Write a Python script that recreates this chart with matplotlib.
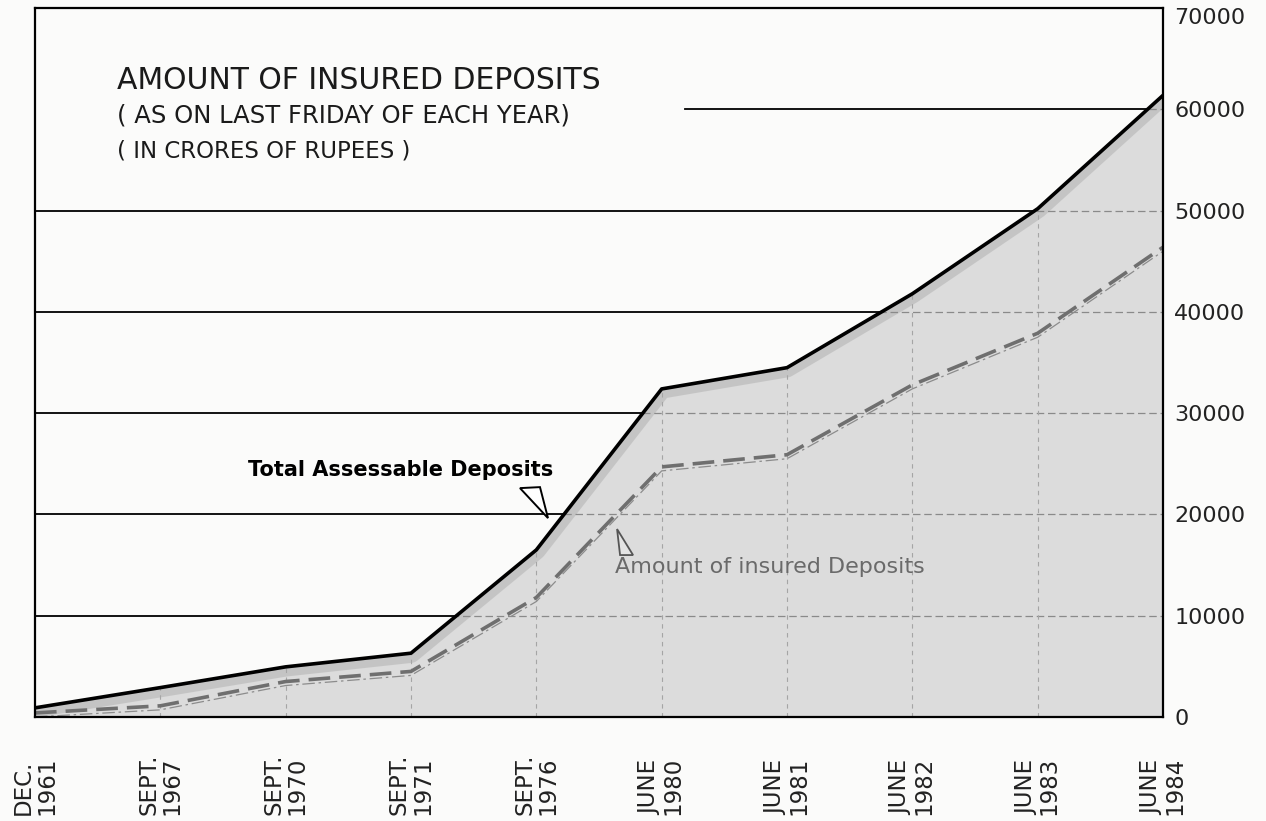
import numpy as np
import matplotlib
matplotlib.use("Agg")
import matplotlib.pyplot as plt
from matplotlib.patches import Polygon
from matplotlib.transforms import offset_copy, ScaledTranslation

periods = ["DEC.\n1961", "SEPT.\n1967", "SEPT.\n1970", "SEPT.\n1971", "SEPT.\n1976",
           "JUNE\n1980", "JUNE\n1981", "JUNE\n1982", "JUNE\n1983", "JUNE\n1984"]
total_deposits = [900, 2900, 4950, 6300, 16500, 32400, 34500, 41800, 50200, 61400]
insured_deposits = [400, 1100, 3500, 4500, 11800, 24700, 25900, 32800, 37900, 46400]
y_ticks = [0, 10000, 20000, 30000, 40000, 50000, 60000, 70000]

x = np.arange(len(periods))

fig = plt.figure(figsize=(12.66, 8.21), dpi=100)
fig.patch.set_facecolor("#fbfbfa")
ax = fig.add_axes([0.0276, 0.1267, 0.8911, 0.8633])
ax.set_facecolor("#fbfbfa")

ax.set_xlim(x[0], x[-1])
ax.set_ylim(0, 70000)

# solid gridlines in the white part
for v in y_ticks[1:-2]:
    ax.axhline(v, color="black", lw=1.3, zorder=1)
ax.axhline(y_ticks[-2], xmin=0.576, color="black", lw=1.3, zorder=1)

# shaded area under total deposits
poly = ax.fill_between(x, total_deposits, 0, color="#dcdcdc", lw=0, zorder=2)
clip_path = poly.get_paths()[0]

# darker edge inside the shading
edge = ax.plot(x, total_deposits, color="#9a9a9a", lw=14, alpha=0.35, zorder=3,
               solid_joinstyle="round")[0]
edge.set_clip_path(clip_path, ax.transData)

# faint gridlines inside shading
for v in y_ticks[1:-1]:
    gl = ax.axhline(v, color="#8a8a8a", lw=0.9, ls=(0, (6, 3)), zorder=3)
    gl.set_clip_path(clip_path, ax.transData)
for xi in x[1:-1]:
    vl = ax.axvline(xi, color="#a5a5a5", lw=0.8, ls=(0, (4, 4)), zorder=3)
    vl.set_clip_path(clip_path, ax.transData)

# lines
ax.plot(x, total_deposits, color="black", lw=2.6, zorder=5, solid_joinstyle="round")
ax.plot(x, insured_deposits, color="#6f6f6f", lw=2.6, ls=(0, (6, 2.5)), zorder=5)
ax.plot(x, insured_deposits, color="#8c8c8c", lw=0.9, ls=(0, (10, 3, 2, 3)), zorder=4,
        transform=offset_copy(ax.transData, fig=fig, x=0, y=-4, units="dots"))

for s in ax.spines.values():
    s.set_linewidth(1.6)
    s.set_color("black")
    s.set_zorder(6)

# axis ticks
ax.yaxis.tick_right()
ax.set_yticks(y_ticks)
ax.set_yticklabels([str(v) for v in y_ticks], fontsize=16, color="#222222")
ax.tick_params(axis="y", length=0, pad=8)
ax.get_yticklabels()[-1].set_va("top")
ax.set_xticks(x)
ax.set_xticklabels([])
ax.tick_params(axis="x", length=0)
for xi, lab in zip(x, periods):
    ax.text(xi, -0.138, lab, transform=ax.get_xaxis_transform(), rotation=90,
            ha="center", va="bottom", fontsize=16.5, color="#222222",
            linespacing=1.0, multialignment="left")

# titles
ax.text(0.073, 0.898, "AMOUNT OF INSURED DEPOSITS", transform=ax.transAxes,
        fontsize=21.5, color="#1a1a1a", va="center", ha="left")
ax.text(0.073, 0.849, "( AS ON LAST FRIDAY OF EACH YEAR)", transform=ax.transAxes,
        fontsize=17.5, color="#1a1a1a", va="center", ha="left")
ax.text(0.073, 0.798, "( IN CRORES OF RUPEES )", transform=ax.transAxes,
        fontsize=16.5, color="#1a1a1a", va="center", ha="left")

# annotations
ax.text(2.92, 24400, "Total Assessable Deposits", fontsize=15, fontweight="semibold",
        ha="center", va="center", color="black", zorder=7)
ax.text(5.86, 14800, "Amount of insured Deposits", fontsize=16,
        ha="center", va="center", color="#6a6a6a", zorder=7)

# hollow pointer triangles, drawn in pixel offsets from their tips
tip1 = ScaledTranslation(4.093, 19640, ax.transData)
ax.add_patch(Polygon([(0, 0), (-0.28, 0.30), (-0.08, 0.31)], closed=True,
                     transform=fig.dpi_scale_trans + tip1,
                     fc="white", ec="black", lw=1.4, zorder=7))
tip2 = ScaledTranslation(4.644, 18560, ax.transData)
ax.add_patch(Polygon([(0, 0), (0.03, -0.26), (0.16, -0.26)], closed=True,
                     transform=fig.dpi_scale_trans + tip2,
                     fc="#e4e4e4", ec="#555555", lw=1.3, zorder=7))

fig.savefig("out.png", dpi=100, facecolor=fig.get_facecolor())
